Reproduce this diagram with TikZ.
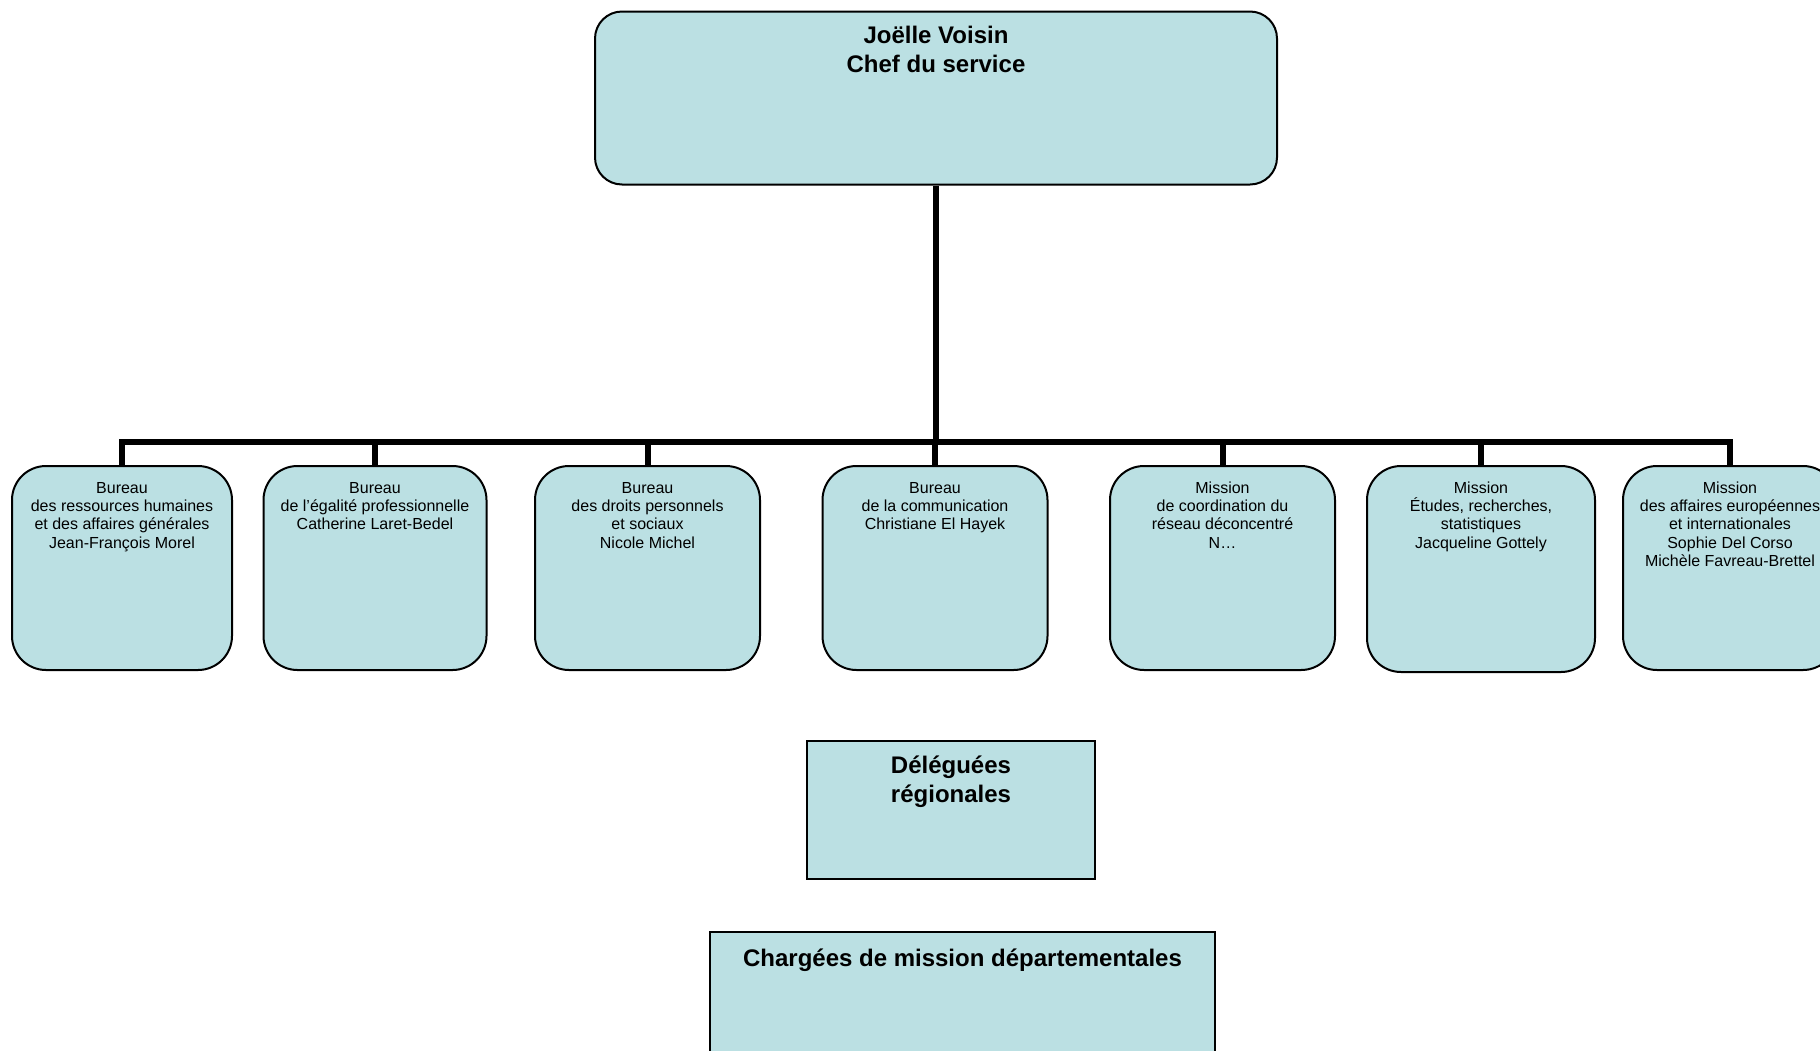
\documentclass[tikz,border=0pt]{standalone}
\usepackage{fontspec}
\setmainfont{Liberation Sans}
\definecolor{boxfill}{RGB}{187,224,227}
\begin{document}
\begin{tikzpicture}[x=1pt,y=-1pt,
  chief/.style={draw=black, line width=2pt, fill=boxfill, rounded corners=27pt, minimum width=682pt, minimum height=173pt, inner sep=0pt},
  unit/.style={draw=black, line width=2pt, fill=boxfill, rounded corners=34pt, minimum width=225pt, minimum height=204pt, inner sep=0pt},
  flat/.style={draw=black, line width=2pt, fill=boxfill, inner sep=0pt},
  small/.style={font=\fontsize{16pt}{18.3pt}\selectfont, align=center, anchor=base, inner sep=0pt},
  big/.style={font=\fontsize{24pt}{29pt}\selectfont\bfseries, align=center, anchor=base, inner sep=0pt},
  conn/.style={draw=black, line width=6pt, line join=miter}]
\useasboundingbox (0,0) rectangle (1820,1050);
\clip (0,0) rectangle (1820,1050);

% chief
\node[chief] (chef) at (936,98) {};
\node[big] (tchef) at ([yshift=-62pt]chef.north) {Joëlle Voisin\\Chef du service};

% units
\node[unit, minimum width=220pt] (u1) at (122,568) {};
\node[unit, minimum width=223pt] (u2) at (375,568) {};
\node[unit] (u3) at (647.5,568) {};
\node[unit] (u4) at (935,568) {};
\node[unit] (u5) at (1222.5,568) {};
\node[unit, minimum width=228pt, minimum height=206pt] (u6) at (1481,569) {};
\node[unit, minimum width=214pt] (u7) at (1730,568) {};

\node[small] (t1) at ([yshift=-83pt]u1.north) {Bureau\\des ressources humaines\\et des affaires générales\\Jean-François Morel};
\node[small] (t2) at ([yshift=-64.7pt]u2.north) {Bureau\\de l’égalité professionnelle\\Catherine Laret-Bedel};
\node[small] (t3) at ([yshift=-83pt]u3.north) {Bureau\\des droits personnels\\et sociaux\\Nicole Michel};
\node[small] (t4) at ([yshift=-64.7pt]u4.north) {Bureau\\de la communication\\Christiane El Hayek};
\node[small] (t5) at ([yshift=-83pt]u5.north) {Mission\\de coordination du\\réseau déconcentré\\N…};
\node[small] (t6) at ([yshift=-83pt]u6.north) {Mission\\Études, recherches,\\statistiques\\Jacqueline Gottely};
\node[small] (t7) at ([yshift=-101.3pt]u7.north) {Mission\\des affaires européennes\\et internationales\\Sophie Del Corso\\Michèle Favreau-Brettel};

% lower boxes
\node[flat, minimum width=288pt, minimum height=138pt] (del) at (951,810) {};
\node[big] (tdel) at ([yshift=-62pt]del.north) {Déléguées\\régionales};
\node[flat, minimum width=505pt, minimum height=200pt] (cha) at (962.5,1032) {};
\node[big] (tcha) at ([yshift=-35pt]cha.north) {Chargées de mission départementales};

% connectors
\coordinate (bar) at (936,442);
\draw[conn] (chef.south) -- (chef.south |- bar);
\draw[conn] (u1.north) -- (u1.north |- bar) -- (u7.north |- bar) -- (u7.north);
\foreach \u in {u2,u3,u4,u5,u6}{
  \draw[conn] (\u.north) -- (\u.north |- bar);
}
\end{tikzpicture}
\end{document}
